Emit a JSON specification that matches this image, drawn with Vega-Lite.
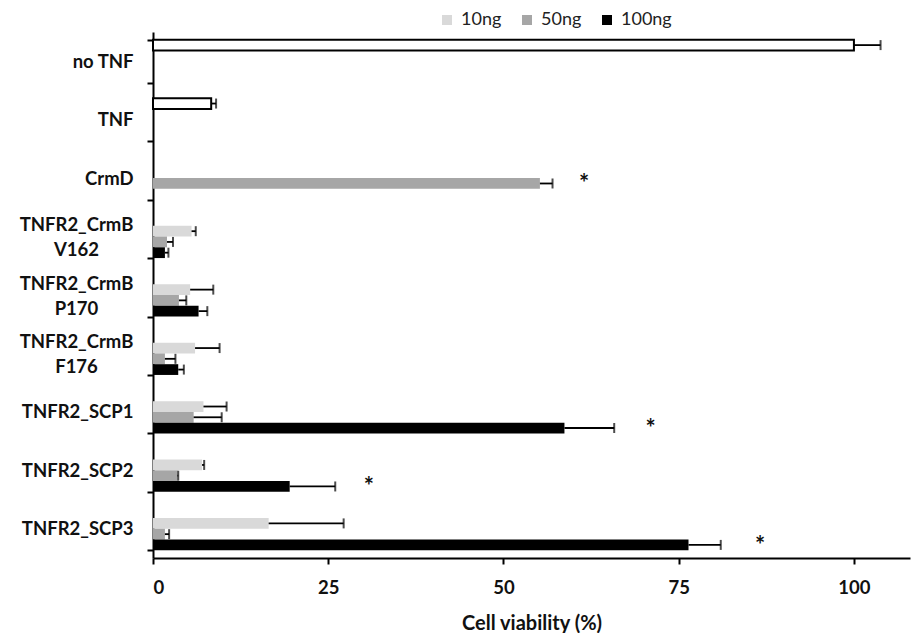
{
  "$schema": "https://vega.github.io/schema/vega-lite/v6.json",
  "autosize": "none",
  "width": 757,
  "height": 526,
  "padding": {"left": 153, "top": 32, "right": 4, "bottom": 75},
  "background": "white",
  "config": {
    "font": "Lato",
    "view": {"stroke": null},
    "axis": {"labelFont": "Lato", "titleFont": "Lato", "grid": false}
  },
  "datasets": {
    "bars": [
      {"cat": "no TNF", "dose": "control", "v": 100, "upper": 103.8},
      {"cat": "TNF", "dose": "control", "v": 8.3, "upper": 9.0},
      {"cat": "CrmD", "dose": "50ng", "v": 55.2, "upper": 57.0},
      {"cat": "TNFR2_CrmB V162", "dose": "10ng", "v": 5.5, "upper": 6.1},
      {"cat": "TNFR2_CrmB V162", "dose": "50ng", "v": 2.0, "upper": 2.85},
      {"cat": "TNFR2_CrmB V162", "dose": "100ng", "v": 1.7, "upper": 2.2},
      {"cat": "TNFR2_CrmB P170", "dose": "10ng", "v": 5.3, "upper": 8.6},
      {"cat": "TNFR2_CrmB P170", "dose": "50ng", "v": 3.7, "upper": 4.75},
      {"cat": "TNFR2_CrmB P170", "dose": "100ng", "v": 6.5, "upper": 7.75},
      {"cat": "TNFR2_CrmB F176", "dose": "10ng", "v": 6.0, "upper": 9.5},
      {"cat": "TNFR2_CrmB F176", "dose": "50ng", "v": 1.7, "upper": 3.2},
      {"cat": "TNFR2_CrmB F176", "dose": "100ng", "v": 3.6, "upper": 4.4},
      {"cat": "TNFR2_SCP1", "dose": "10ng", "v": 7.2, "upper": 10.5},
      {"cat": "TNFR2_SCP1", "dose": "50ng", "v": 5.8, "upper": 9.8},
      {"cat": "TNFR2_SCP1", "dose": "100ng", "v": 58.7, "upper": 65.8},
      {"cat": "TNFR2_SCP2", "dose": "10ng", "v": 7.0, "upper": 7.3},
      {"cat": "TNFR2_SCP2", "dose": "50ng", "v": 3.5, "upper": 3.6},
      {"cat": "TNFR2_SCP2", "dose": "100ng", "v": 19.5, "upper": 26.0},
      {"cat": "TNFR2_SCP3", "dose": "10ng", "v": 16.5, "upper": 27.2},
      {"cat": "TNFR2_SCP3", "dose": "50ng", "v": 1.7, "upper": 2.3},
      {"cat": "TNFR2_SCP3", "dose": "100ng", "v": 76.4, "upper": 81.0}
    ],
    "stars": [
      {"cat": "CrmD", "dose": "50ng", "x": 61.5, "label": "*"},
      {"cat": "TNFR2_SCP1", "dose": "100ng", "x": 71.0, "label": "*"},
      {"cat": "TNFR2_SCP2", "dose": "100ng", "x": 30.8, "label": "*"},
      {"cat": "TNFR2_SCP3", "dose": "100ng", "x": 86.6, "label": "*"}
    ]
  },
  "encoding": {
    "y": {
      "field": "cat",
      "type": "nominal",
      "sort": ["no TNF", "TNF", "CrmD", "TNFR2_CrmB V162", "TNFR2_CrmB P170", "TNFR2_CrmB F176", "TNFR2_SCP1", "TNFR2_SCP2", "TNFR2_SCP3"],
      "scale": {
        "domain": ["no TNF", "TNF", "CrmD", "TNFR2_CrmB V162", "TNFR2_CrmB P170", "TNFR2_CrmB F176", "TNFR2_SCP1", "TNFR2_SCP2", "TNFR2_SCP3"],
        "paddingInner": 0.264,
        "paddingOuter": 0.132
      },
      "axis": {
        "title": null,
        "ticks": true,
        "tickBand": "extent",
        "domainColor": "#000000",
        "domainWidth": 2,
        "tickColor": "#000000",
        "tickWidth": 2,
        "tickSize": 6,
        "labelPadding": {"condition": {"test": "indexof(datum.label, 'CrmB ') >= 0", "value": 71}, "value": 14},
        "labelAlign": {"condition": {"test": "indexof(datum.label, 'CrmB ') >= 0", "value": "center"}, "value": "right"},
        "labelFont": "Lato",
        "labelFontWeight": "bold",
        "labelFontSize": 18.5,
        "labelColor": "#111111",
        "labelLineHeight": 25,
        "labelOffset": {"condition": {"test": "indexof(datum.label, 'CrmB ') >= 0", "value": -12}, "value": 0},
        "labelExpr": "indexof(datum.label, 'CrmB ') >= 0 ? split(datum.label, ' ') : datum.label"
      }
    },
    "yOffset": {
      "field": "dose",
      "type": "nominal",
      "scale": {"domain": ["control", "10ng", "50ng", "100ng"], "paddingInner": 0, "paddingOuter": 0}
    }
  },
  "layer": [
    {
      "data": {"name": "bars"},
      "mark": {"type": "bar", "strokeWidth": 2},
      "encoding": {
        "x": {
          "field": "v",
          "type": "quantitative",
          "scale": {"domain": [0, 108], "nice": false, "zero": true},
          "axis": {
            "title": "Cell viability (%)",
            "values": [0, 25, 50, 75, 100],
            "domainColor": "#000000",
            "domainWidth": 2,
            "tickColor": "#000000",
            "tickWidth": 2,
            "tickSize": 6,
            "labelPadding": 14,
            "labelFontWeight": "bold",
            "labelFontSize": 18.5,
            "labelColor": "#111111",
            "titleFontWeight": "bold",
            "titleFontSize": 20,
            "titleColor": "#111111",
            "titlePadding": 17
          }
        },
        "color": {
          "field": "dose",
          "type": "nominal",
          "scale": {"domain": ["control", "10ng", "50ng", "100ng"], "range": ["#ffffff", "#d9d9d9", "#a6a6a6", "#000000"]},
          "legend": {
            "title": null,
            "values": ["10ng", "50ng", "100ng"],
            "orient": "none",
            "direction": "horizontal",
            "legendX": 285,
            "legendY": -21,
            "symbolType": "square",
            "symbolSize": 100,
            "symbolStrokeWidth": 0,
            "labelFontSize": 18,
            "labelColor": "#222222",
            "labelFont": "Lato",
            "columnPadding": 16,
            "labelOffset": 5
          }
        },
        "stroke": {
          "condition": {"test": "datum.dose === 'control'", "value": "#000000"},
          "value": "transparent"
        }
      }
    },
    {
      "data": {"name": "bars"},
      "mark": {"type": "rule", "color": "#000000", "strokeWidth": 1.8},
      "encoding": {
        "x": {"field": "v", "type": "quantitative"},
        "x2": {"field": "upper"}
      }
    },
    {
      "data": {"name": "bars"},
      "mark": {"type": "tick", "color": "#000000", "thickness": 2, "size": 10, "orient": "vertical"},
      "encoding": {
        "x": {"field": "upper", "type": "quantitative"}
      }
    },
    {
      "data": {"name": "stars"},
      "mark": {"type": "text", "fontSize": 24, "fontWeight": "bold", "color": "#111111", "baseline": "middle", "dy": 2},
      "encoding": {
        "x": {"field": "x", "type": "quantitative"},
        "text": {"field": "label"}
      }
    }
  ]
}
